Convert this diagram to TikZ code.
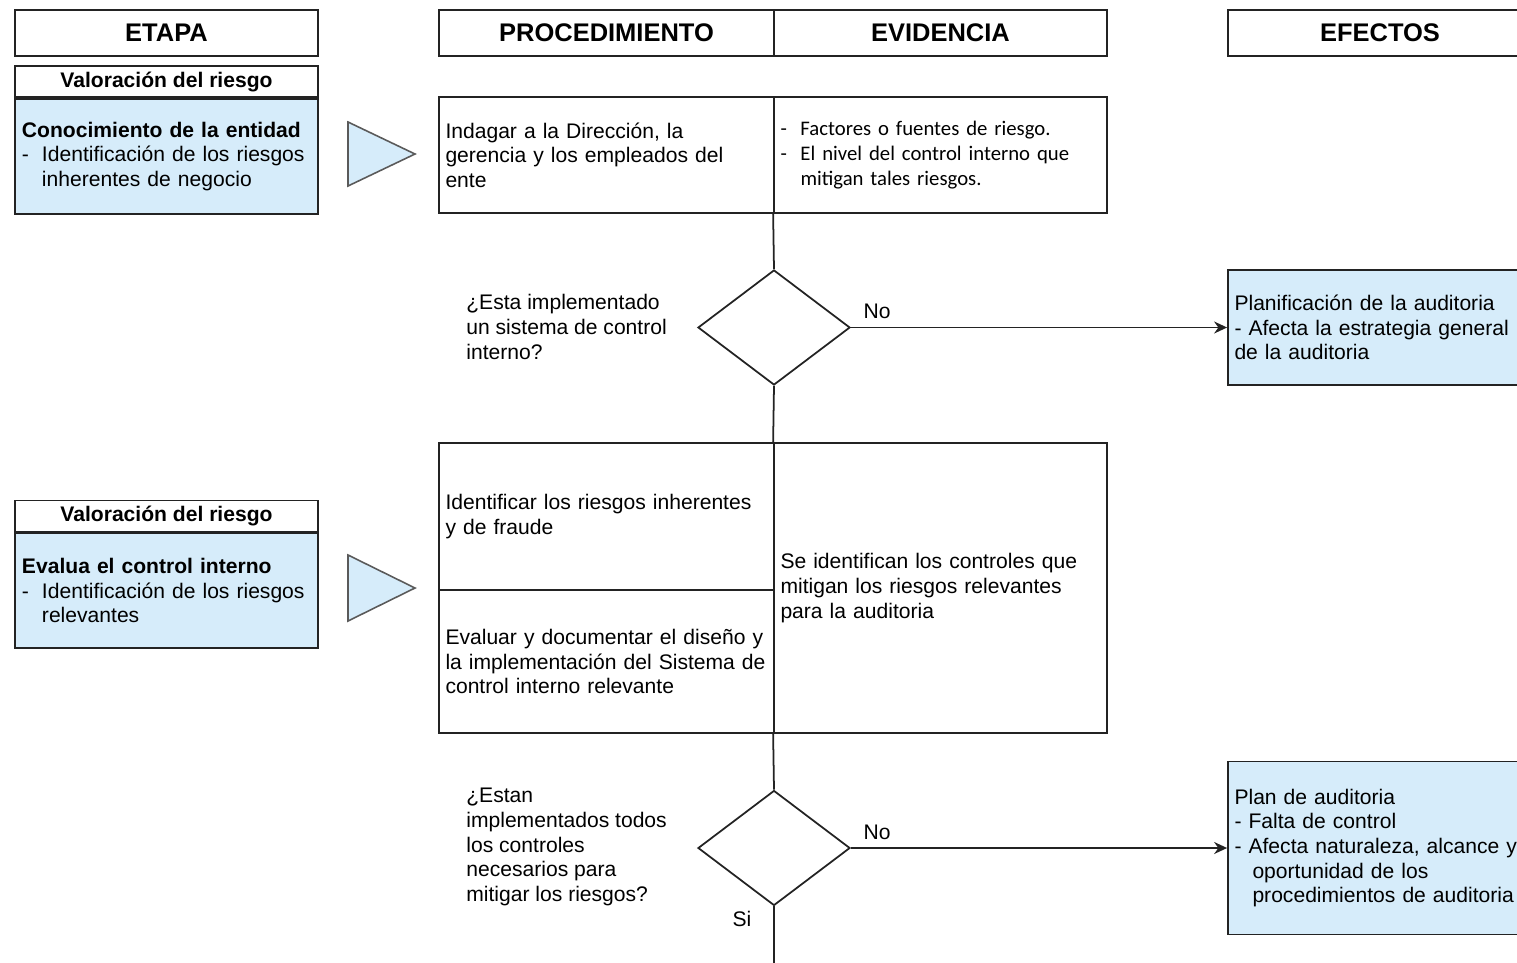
\documentclass[tikz,border=0pt]{standalone}
\usepackage{fontspec}
\setmainfont{Liberation Sans}
\newfontfamily\calibrifont{Carlito}
\usepackage{tikz}
\usetikzlibrary{arrows.meta, positioning, shapes.geometric}
\definecolor{stageblue}{RGB}{214,236,250}
\definecolor{linegray}{RGB}{35,35,35}
\newcommand{\itemdash}{\makebox[4mm][l]{-}}
\newcommand{\itemgap}{\hspace*{4mm}}

\begin{document}
\begin{tikzpicture}[
  x=0.2mm, y=-0.2mm,
  font=\fontsize{12}{14}\selectfont,
  >=Stealth,
  box/.style={
    draw=linegray,
    line width=1pt,
    inner sep=0pt
  },
  colhead/.style={
    box,
    font=\fontsize{14.5}{16}\selectfont\bfseries,
    minimum height=9.2mm
  },
  stagetitle/.style={
    box,
    font=\fontsize{12}{14}\selectfont\bfseries,
    minimum width=60.6mm,
    minimum height=6.2mm
  },
  stage/.style={
    box,
    fill=stageblue,
    minimum width=60.6mm,
    minimum height=23mm,
    text width=57.8mm,
    inner xsep=1.4mm,
    align=left
  },
  cell/.style={
    box,
    inner xsep=1.3mm,
    align=left
  },
  effect/.style={
    cell,
    fill=stageblue,
    minimum width=60.8mm,
    text width=58.2mm
  },
  decision/.style={
    box,
    diamond,
    minimum width=30.4mm,
    minimum height=23mm
  },
  question/.style={anchor=west, align=left, inner sep=0pt},
  pointer/.style={draw=linegray!75, line width=0.9pt, fill=stageblue},
  line/.style={draw=linegray, line width=1pt},
  flow/.style={line, -{Stealth[length=2.6mm, width=2.4mm]}},
  label/.style={inner sep=1pt}
]

\useasboundingbox (0,0) rectangle (1517,962);
\clip (0,0) rectangle (1517,962);

% Column headers
\node[colhead, minimum width=60.6mm] (etapa) at (166.5,33) {ETAPA};
\node[colhead, minimum width=67mm] (proc) at (606.5,33) {PROCEDIMIENTO};
\node[colhead, minimum width=66.6mm] (evid) at (940.5,33) {EVIDENCIA};
\node[colhead, minimum width=60.8mm] (efec) at (1380,33) {EFECTOS};

% First stage: knowledge of the entity
\node[stagetitle] (title1) at (166.5,81.5) {Valoración del riesgo};
\node[stage, below=0pt of title1] (stage1)
{\textbf{Conocimiento de la entidad}\\
\itemdash Identificación de los riesgos\\
\itemgap inherentes de negocio};
\draw[pointer] (348,122) -- (415,154) -- (348,186) -- cycle;

\node[cell, minimum width=67mm, minimum height=23.2mm, text width=64.4mm] (proc1) at (606.5,155)
{Indagar a la Dirección, la\\
gerencia y los empleados del\\
ente};
\node[cell, minimum width=66.6mm, minimum height=23.2mm, text width=64mm,
  font=\calibrifont\fontsize{11.8}{14}\selectfont] (evid1) at (940.5,155)
{\itemdash Factores o fuentes de riesgo.\\
\itemdash El nivel del control interno que\\
\itemgap mitigan tales riesgos.};

% First decision
\node[decision] (dec1) at (774,327.5) {};
\node[question] (quest1) at (466,327)
{¿Esta implementado\\
un sistema de control\\
interno?};
\node[effect, minimum height=23mm] (eff1) at (1380,327.5)
{Planificación de la auditoria\\
- Afecta la estrategia general\\
de la auditoria};

% Second stage: internal control
\node[stagetitle] (title2) at (166.5,516) {Valoración del riesgo};
\node[stage, below=0pt of title2] (stage2)
{\textbf{Evalua el control interno}\\
\itemdash Identificación de los riesgos\\
\itemgap relevantes};
\draw[pointer] (348,555) -- (415,588) -- (348,621) -- cycle;

\node[cell, minimum width=67mm, minimum height=29.4mm, text width=64.4mm] (proc2a) at (606.5,516.5)
{Identificar los riesgos inherentes\\
y de fraude};
\node[cell, minimum width=67mm, minimum height=28.6mm, text width=64.4mm] (proc2b) at (606.5,661.5)
{Evaluar y documentar el diseño y\\
la implementación del Sistema de\\
control interno relevante};
\node[cell, minimum width=66.6mm, minimum height=58mm, text width=64mm] (evid2) at (940.5,588)
{Se identifican los controles que\\
mitigan los riesgos relevantes\\
para la auditoria};

% Second decision
\node[decision] (dec2) at (774,848) {};
\node[question] (quest2) at (466,847)
{¿Estan\\
implementados todos\\
los controles\\
necesarios para\\
mitigar los riesgos?};
\node[effect, minimum height=34.6mm] (eff2) at (1380,848)
{Plan de auditoria\\
- Falta de control\\
- Afecta naturaleza, alcance y\\
\hspace*{3.6mm}oportunidad de los\\
\hspace*{3.6mm}procedimientos de auditoria};
\coordinate (next) at (774,975);

% Connectors
\draw[line] (evid1.south west) -- (dec1.north);
\draw[flow] (dec1.east) -- node[label, above=1.2mm, pos=0.07]{No} (eff1.west);
\draw[line] (dec1.south) -- (evid2.north west);
\draw[line] (evid2.south west) -- (dec2.north);
\draw[flow] (dec2.east) -- node[label, above=1.2mm, pos=0.07]{No} (eff2.west);
\draw[line] (dec2.south) -- node[label, pos=0.19, left=4mm]{Si} (next);

\end{tikzpicture}
\end{document}
